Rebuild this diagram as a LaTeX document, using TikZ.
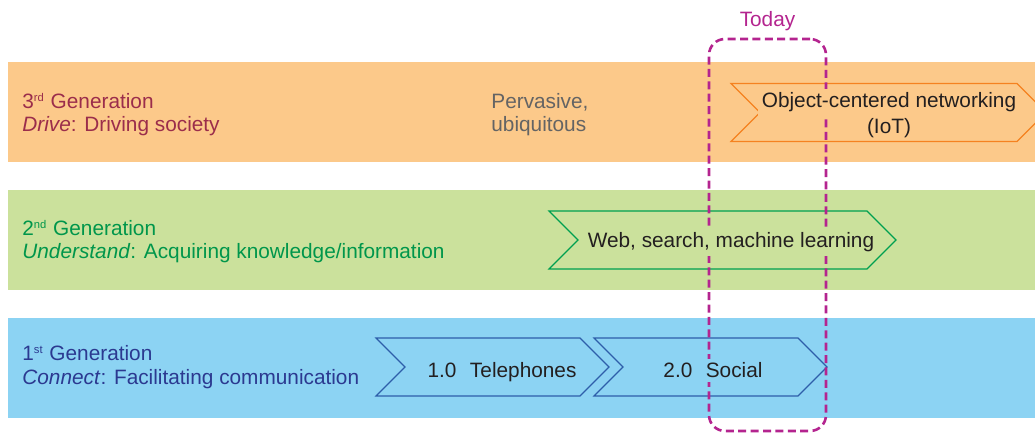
\documentclass[tikz,border=0pt]{standalone}
\usepackage{xcolor}
\usepackage{fontspec}
\setmainfont{Liberation Sans}
\usepackage{tikz}
\usetikzlibrary{positioning,shapes.symbols}

\definecolor{bandorange}{RGB}{252,201,138}
\definecolor{bandgreen}{RGB}{203,225,156}
\definecolor{bandblue}{RGB}{140,211,243}
\definecolor{lineorange}{RGB}{245,130,32}
\definecolor{linegreen}{RGB}{0,160,80}
\definecolor{lineblue}{RGB}{46,94,170}
\definecolor{genthree}{RGB}{155,45,75}
\definecolor{gentwo}{RGB}{0,150,75}
\definecolor{genone}{RGB}{43,57,144}
\definecolor{todaycol}{RGB}{180,36,143}
\definecolor{greytext}{RGB}{100,100,100}
\definecolor{darktext}{RGB}{35,31,32}

\newcommand{\gensup}[1]{\textsuperscript{\fontsize{5.6}{6}\selectfont #1}}

\begin{document}
\begin{tikzpicture}[x=0.5pt,y=-0.5pt,
  every node/.style={font=\fontsize{10.4}{11.8}\selectfont},
  band/.style={minimum width=513.5pt,minimum height=50pt,inner sep=0pt},
  chevron/.style={signal,signal from=west,signal to=east,line width=0.6pt,minimum height=29pt,inner sep=0pt},
  genlabel/.style={anchor=base west,align=left,inner sep=0pt},
  chevtext/.style={anchor=base,text=darktext,inner sep=2pt}]
\useasboundingbox (0,0) rectangle (1035,433);
\clip (0,0) rectangle (1035,433);

% bands
\node[band,fill=bandorange] (third) at (521.5,112.5) {};
\node[band,fill=bandgreen] (second) at (521.5,240.5) {};
\node[band,fill=bandblue] (first) at (521.5,368) {};

% arrows
\node[chevron,draw=lineorange,minimum width=157.5pt] (iot) at (888.5,112.5) {};
\node[chevron,draw=linegreen,minimum width=173.5pt] (web) at (722.5,240) {};
\node[chevron,draw=lineblue,minimum width=116.5pt] (tel) at (492.5,367) {};
\node[chevron,draw=lineblue,minimum width=116.5pt] (soc) at (710.5,367) {};

% today
\node[draw=todaycol,line width=1.3pt,dash pattern=on 4pt off 2.2pt,rounded corners=8pt,
  minimum width=58.5pt,minimum height=196pt,inner sep=0pt] (today) at (767.5,235) {};
\node[text=todaycol,above=0pt of today] (todaytext) {Today};

% base anchor sits on the last line
\node[genlabel,text=genthree] (gen3) at (22,132) {3\gensup{rd} Generation\\\textit{Drive}: Driving society};
\node[genlabel,text=gentwo] (gen2) at (22,259) {2\gensup{nd} Generation\\\textit{Understand}: Acquiring knowledge/information};
\node[genlabel,text=genone] (gen1) at (22,384) {1\gensup{st} Generation\\\textit{Connect}: Facilitating communication};
\node[genlabel,text=greytext] (perv) at (491,132) {Pervasive,\\ubiquitous};

\node[chevtext,fill=bandorange] (iottop) at (889,108) {Object-centered networking};
\node[chevtext,below=-1.5pt of iottop] (iotbot) {(IoT)};
\node[chevtext,fill=bandgreen] (webtext) at (731,248) {Web, search, machine learning};
\node[chevtext] (teltext) at (502,378) {1.0\hspace{0.65em}Telephones};
\node[chevtext,fill=bandblue] (soctext) at (713,378) {2.0\hspace{0.65em}Social};
\end{tikzpicture}
\end{document}
